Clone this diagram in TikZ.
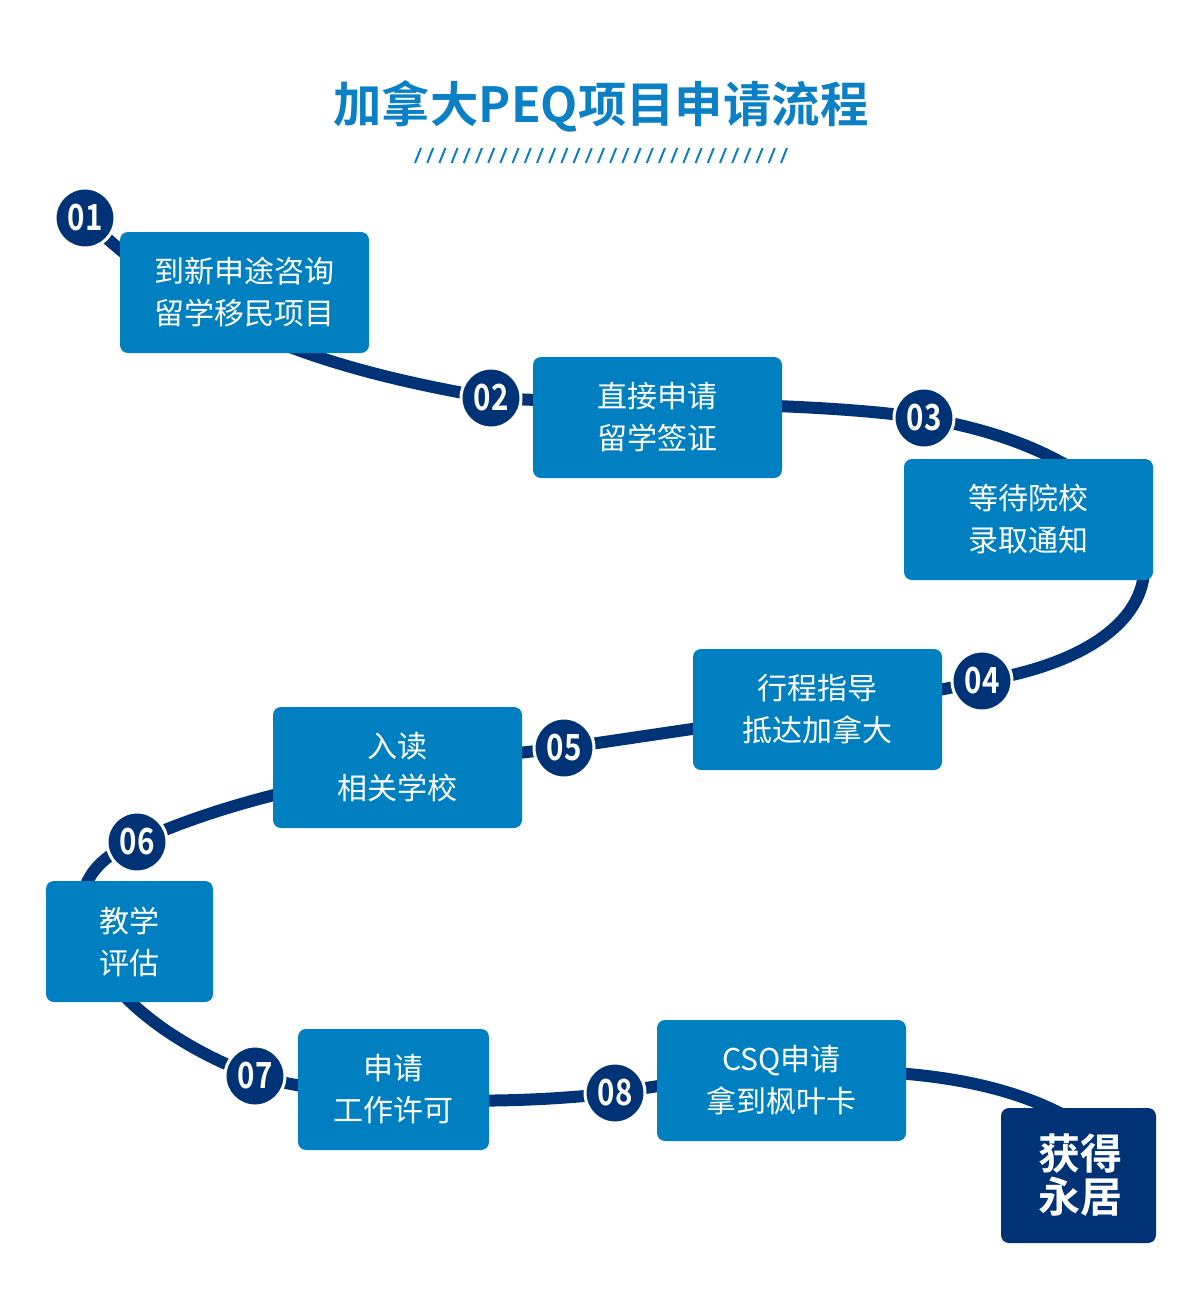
\documentclass[tikz,border=0pt]{standalone}
\usepackage{fontspec}
\setmainfont{Noto Sans CJK SC}[BoldFont={Noto Sans CJK SC Bold}]
\usetikzlibrary{backgrounds}
\definecolor{navy}{RGB}{0,51,118}
\definecolor{boxblue}{RGB}{0,128,192}
\definecolor{titleblue}{RGB}{12,128,196}
\begin{document}
\begin{tikzpicture}[x=0.5pt,y=-0.5pt,line join=round,
	hop/.style={rectangle,rounded corners=4pt,fill=boxblue,text=white,align=center,inner sep=0pt,minimum height=60.5pt,font=\fontsize{15}{21}\selectfont},
	num/.style={circle,fill=navy,draw=white,line width=1.5pt,minimum size=30pt,inner sep=0pt,text=white,font=\bfseries\fontsize{18}{18}\selectfont},
	road/.style={draw=navy,line width=6pt}]
	%==khung
	\useasboundingbox (0,0) rectangle (1200,1302);
	%==tiêu đề
	\node[text=titleblue,font=\bfseries\fontsize{24.2}{24}\selectfont] (title) at (601,106) {加拿大PEQ项目申请流程};
	\foreach \i in {0,...,30}\draw[titleblue,line width=1pt] (415+12.2*\i,163)--++(6,-15);
	%==các bước
	\foreach \n/\p/\w/\t in {b1/{244.5,292.5}/124.5/{到新申途咨询\\留学移民项目},b2/{657.5,417.5}/124.5/{直接申请\\留学签证},b3/{1028.5,519.5}/124.5/{等待院校\\录取通知},b4/{817.5,709.5}/124.5/{行程指导\\抵达加拿大},b5/{397.5,767.5}/124.5/{入读\\相关学校},b6/{129.5,941.5}/83.5/{教学\\评估},b7/{393.5,1089.5}/95.5/{申请\\工作许可},b8/{781.5,1080.5}/124.5/{CSQ申请\\拿到枫叶卡}}
		\node[hop,minimum width=\w pt] (\n) at (\p) {\t};
	\node[hop,fill=navy,minimum width=77.5pt,minimum height=67.5pt,font=\bfseries\fontsize{21}{21.5}\selectfont] (b9) at (1078.5,1175.5) {\hspace*{2pt}获得\\\hspace*{2pt}永居};
	%==số thứ tự
	\foreach \n/\p in {01/{85,218},02/{491,398},03/{924,418},04/{982,681},05/{564,748},06/{137,842},07/{255,1076},08/{615,1093}}
		\node[num] (c\n) at (\p) {\scalebox{0.82}[1]{\n}};
	%==đường nối
	\begin{scope}[on background layer]
		\draw[road] (c01.center) .. controls (200,330) and (330,370) .. (c02.center)
			.. controls (620,405) and (800,400) .. (c03.center)
			.. controls (1180,460) and (1230,640) .. (c04.center)
			.. controls (900,700) and (750,720) .. (c05.center)
			.. controls (400,765) and (250,790) .. (c06.center)
			.. controls (30,880) and (80,1010) .. (c07.center)
			.. controls (350,1100) and (480,1108) .. (c08.center)
			.. controls (760,1068) and (960,1050) .. ([yshift=-8pt]b9.north);
	\end{scope}
\end{tikzpicture}
\end{document}
